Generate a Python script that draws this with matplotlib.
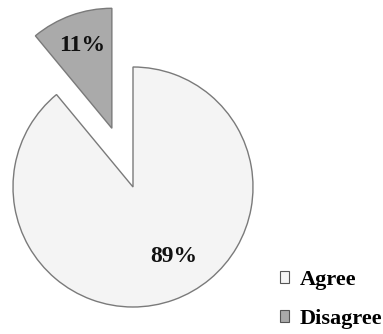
import matplotlib
matplotlib.use("Agg")
import matplotlib.pyplot as plt
from matplotlib.patches import Patch

labels = ["Agree", "Disagree"]
values = [89, 11]
colors = ["#f4f4f4", "#aaaaaa"]
explode = [0, 0.52]

plt.rcParams["font.family"] = ["Liberation Serif", "DejaVu Serif"]

fig = plt.figure(figsize=(3.83, 3.34), dpi=100)
ax = fig.add_axes([0, 0, 1, 1])

wedges, texts, autotexts = ax.pie(
    values, colors=colors, explode=explode, startangle=90, counterclock=False,
    autopct="%1.0f%%", pctdistance=0.73,
    wedgeprops=dict(edgecolor="#7a7a7a", linewidth=1.0),
    textprops=dict(fontsize=17, fontweight="bold", color="#111111"),
)
# 89% sits a bit off the bisector in the original
autotexts[0].set_position((0.34, -0.58))

# pie center at (133, 187) px, radius 120 px
ax.set_xlim(-133 / 120, (383 - 133) / 120)
ax.set_ylim(-147 / 120, (334 - 147) / 120)
ax.set_aspect("auto")
ax.axis("off")

handles = [Patch(facecolor=c, edgecolor="#555555", linewidth=0.8) for c in colors]
fig.legend(handles, labels, loc="lower left", bbox_to_anchor=(280 / 383, 5 / 334),
           frameon=False, borderpad=0, borderaxespad=0,
           handlelength=0.42, handleheight=0.42, handletextpad=0.45, labelspacing=0.85,
           prop=dict(family=["Liberation Serif"], weight="bold", size=16))

fig.savefig("out.png", dpi=100)
